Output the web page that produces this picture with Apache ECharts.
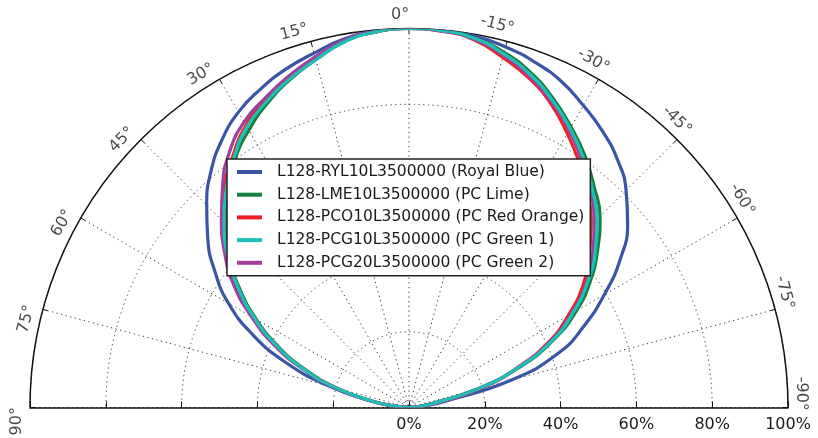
<!DOCTYPE html>
<html><head><meta charset="utf-8">
<script src="https://cdn.jsdelivr.net/npm/echarts@6/dist/echarts.min.js"></script>
<style>html,body{margin:0;padding:0;background:#fff}#c{width:818px;height:438px}</style>
</head><body><div id="c"></div>
<script>
// angle in degrees (positive = left side, negative = right side)
const angles = [-90,-85,-80,-75,-70,-65,-60,-55,-50,-45,-40,-35,-30,-25,-20,-15,-10,-5,0,5,10,15,20,25,30,35,40,45,50,55,60,65,70,75,80,85,90];
// relative intensity, %
const royalBlue = [0,4,10,28,42,51,59.5,68,75.3,81,85.5,89,92,95,97,98.5,99.5,100,100,99.7,98.7,96.8,95,92.7,90,86.1,81.3,75.5,69.3,62.5,55,45.5,34.5,22,11,4,0];
const pcLime    = [0,2,6,18,31,42,51,58.5,65,71.3,76,81,85.5,90,94,97,99,100,100,99.5,98,95,92,88.5,84.5,80,74.5,68.5,62,54.5,46.5,38,29,19.5,10,3.5,0];
const pcRedOrange=[0,3,8,19.5,30,40.5,48.5,56,62,68,73.5,78.5,83.5,88.5,92.5,95.6,98.5,99.7,100,99.5,98.2,95.5,92.5,89.5,86,81,75.5,69,62.5,55.5,47.2,38.5,29.5,20,10.5,3.5,0];
const pcGreen1  = [0,3,7,18.5,30.5,41.5,50,57.5,64.2,70.2,75.2,80.3,85,89.5,93.5,96.6,98.9,99.8,100,99.5,98,95,92.2,89,85.5,80.5,75,69,62.5,55,47,38.5,29.5,20,10,3.5,0];
const pcGreen2  = [0,3,7.5,19,30.5,41,49.5,57,63.2,69.2,74.5,79.5,84.5,89,93,96.2,98.7,99.7,100,99.6,98.4,95.8,93,90,87,82.5,76.5,70,63.5,56.5,48,39.5,30,20.5,10.5,3.5,0];

const seriesNames = [
  'L128-RYL10L3500000 (Royal Blue)',
  'L128-LME10L3500000 (PC Lime)',
  'L128-PCO10L3500000 (PC Red Orange)',
  'L128-PCG10L3500000 (PC Green 1)',
  'L128-PCG20L3500000 (PC Green 2)'
];
const seriesValues = [royalBlue, pcLime, pcRedOrange, pcGreen1, pcGreen2];
const seriesColors = ['#3a54a6', '#148040', '#ee2129', '#1dbfb7', '#a23f9c'];
const drawOrder = [0, 1, 2, 4, 3];

const angleTicks = [90,75,60,45,30,15,0,-15,-30,-45,-60,-75,-90];
const angleTickLabels = ['90°','75°','60°','45°','30°','15°','0°','-15°','-30°','-45°','-60°','-75°','-90°'];
const radiusTicks = [0,20,40,60,80,100];

const FONT = 'DejaVu Sans';
const TXT = '#1a1a1a';
const dotted = {color:'#333', width:1, type:[1.2,3.5]};

const chart = echarts.init(document.getElementById('c'), null, {renderer:'canvas'});

const lineSeries = drawOrder.map((i) => ({
  name: seriesNames[i],
  type: 'line',
  coordinateSystem: 'polar',
  polarIndex: 0,
  showSymbol: false,
  smooth: true,
  color: seriesColors[i],
  lineStyle: {width: 3.2, color: seriesColors[i]},
  data: angles.map((a, j) => [seriesValues[i][j], a]),
  z: 3
}));

const angleLabelSeries = {
  type: 'scatter',
  coordinateSystem: 'polar',
  polarIndex: 0,
  clip: false,
  symbolSize: 0,
  silent: true,
  data: angleTicks.map((a, k) => ({
    name: angleTickLabels[k],
    value: [103.6, a + (a === 0 ? 1.3 : 2)],
    label: {rotate: a}
  })),
  label: {
    show: true,
    position: 'inside',
    formatter: '{b}',
    fontFamily: FONT,
    fontSize: 16,
    color: TXT
  },
  z: 5
};

chart.setOption({
  animation: false,
  backgroundColor: '#fff',
  polar: [
    {center: [409, 407.5], radius: 379},
    {center: [409, 407.5], radius: 379}
  ],
  angleAxis: [
    {
      polarIndex: 0, type: 'value', min: -90, max: 90, interval: 15,
      startAngle: 0, endAngle: 180, clockwise: false,
      axisLine: {show: true, lineStyle: {color: '#111', width: 1.5}},
      axisTick: {show: true, inside: true, length: 5, lineStyle: {color: '#111', width: 1}},
      axisLabel: {show: false},
      splitLine: {show: true, lineStyle: dotted}
    },
    {
      polarIndex: 1, type: 'value', min: 0, max: 180, interval: 15,
      startAngle: 180, endAngle: 360, clockwise: false,
      axisLine: {show: false}, axisTick: {show: false}, axisLabel: {show: false}, splitLine: {show: false}
    }
  ],
  radiusAxis: [
    {
      polarIndex: 0, type: 'value', min: radiusTicks[0], max: radiusTicks[radiusTicks.length-1], interval: 20,
      axisLine: {show: true, lineStyle: {color: '#111', width: 1.5}},
      axisTick: {show: true, length: 6, lineStyle: {color: '#111'}},
      axisLabel: {show: true, formatter: '{value}%', fontFamily: FONT, fontSize: 16, color: TXT, margin: -25},
      splitLine: {show: true, lineStyle: dotted}
    },
    {
      polarIndex: 1, type: 'value', min: 0, max: 100, interval: 20,
      axisLine: {show: true, lineStyle: {color: '#111', width: 1.5}},
      axisTick: {show: true, length: -6, lineStyle: {color: '#111'}},
      axisLabel: {show: false},
      splitLine: {show: false}
    }
  ],
  legend: {
    orient: 'vertical',
    left: 227, top: 159,
    data: seriesNames,
    icon: 'rect',
    itemWidth: 25, itemHeight: 4,
    itemGap: 6.7,
    padding: [5, 6, 5, 10],
    borderColor: '#222', borderWidth: 1.5,
    backgroundColor: '#fff',
    textStyle: {fontFamily: FONT, fontSize: 15.5, color: TXT, lineHeight: 16, padding: [0, 0, 0, 10]}
  },
  series: lineSeries.concat([angleLabelSeries])
});
</script>
</body></html>
